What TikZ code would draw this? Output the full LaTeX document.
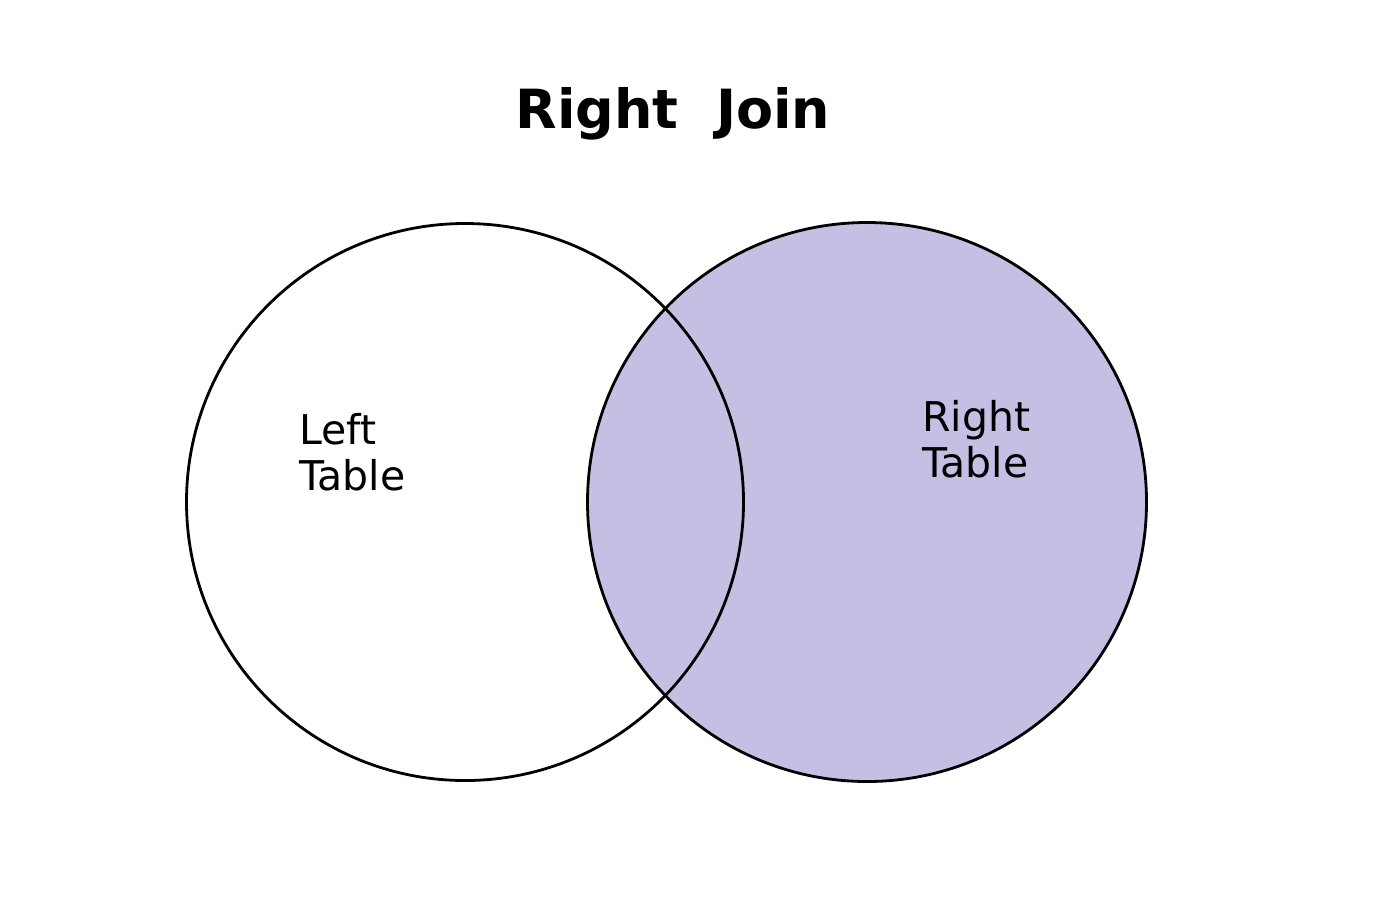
\documentclass[tikz,border=0pt]{standalone}
\usepackage{fontspec}
\setmainfont{DejaVu Sans}
\definecolor{lav}{HTML}{C6BFE4}
\tikzset{
  venn/.style={draw=black, line width=1.4pt},
  label/.style={font=\fontsize{20.5pt}{23pt}\selectfont, align=left, inner sep=0pt, anchor=base west},
  titletext/.style={font=\bfseries\fontsize{27pt}{30pt}\selectfont, inner sep=0pt, anchor=base}
}
\begin{document}
\begin{tikzpicture}[x=0.5pt,y=-0.5pt]
\useasboundingbox (0,0) rectangle (1400,918);
\coordinate (lc) at (465,502);
\coordinate (rc) at (867,502);
\fill[lav] (rc) circle[radius=139.75pt];
\draw[venn] (lc) circle[radius=139.25pt];
\draw[venn] (rc) circle[radius=139.75pt];
\node[titletext] (title) at (673,128) {Right\ \ Join};
\node[label] (left) at (299,490) {Left\\Table};
\node[label] (right) at (922,477) {Right\\Table};
\end{tikzpicture}
\end{document}
